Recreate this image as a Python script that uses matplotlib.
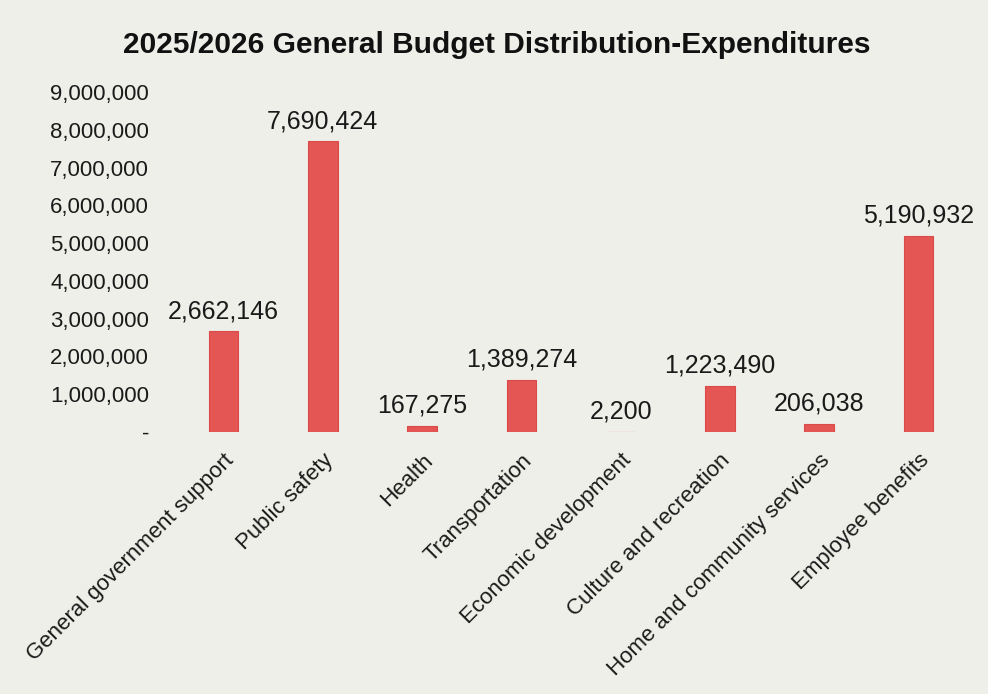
import matplotlib.pyplot as plt
from matplotlib.ticker import FuncFormatter, MultipleLocator

categories = [
    "General government support",
    "Public safety",
    "Health",
    "Transportation",
    "Economic development",
    "Culture and recreation",
    "Home and community services",
    "Employee benefits",
]
expenditures = [2662146, 7690424, 167275, 1389274, 2200, 1223490, 206038, 5190932]

plt.rcParams['font.family'] = ['Liberation Sans', 'DejaVu Sans']
bg = '#efefe9'

fig = plt.figure(figsize=(9.88, 6.94), dpi=100, facecolor=bg)
ax = fig.add_axes([0.176, 0.3775, 0.804, 0.49])
ax.set_facecolor(bg)

x = range(len(categories))
bars = ax.bar(x, expenditures, width=0.3, color='#e35653', edgecolor='#d94a48', linewidth=0.8)

for xi, v in zip(x, expenditures):
    ax.annotate(f"{v:,}", (xi, v), xytext=(0, 6), textcoords='offset points',
                ha='center', va='bottom', fontsize=18, color='#1a1a1a')

ax.set_xlim(-0.5, len(categories) - 0.5)
ax.set_ylim(0, 9000000)
ax.yaxis.set_major_locator(MultipleLocator(1000000))
ax.yaxis.set_major_formatter(FuncFormatter(lambda v, p: '-' if v == 0 else f"{v:,.0f}"))
ax.set_xticks(list(x))
ax.set_xticklabels(categories, rotation=45, ha='right', rotation_mode='anchor')

ax.tick_params(axis='y', length=0, pad=18, labelsize=16, colors='#1a1a1a')
ax.tick_params(axis='x', length=0, pad=13, labelsize=16, colors='#1a1a1a')
for s in ax.spines.values():
    s.set_visible(False)

fig.text(0.503, 0.935, "2025/2026 General Budget Distribution-Expenditures",
         ha='center', va='center', fontsize=21.5, fontweight='bold', color='#111111')

fig.savefig('out.png', dpi=100, facecolor=bg)
